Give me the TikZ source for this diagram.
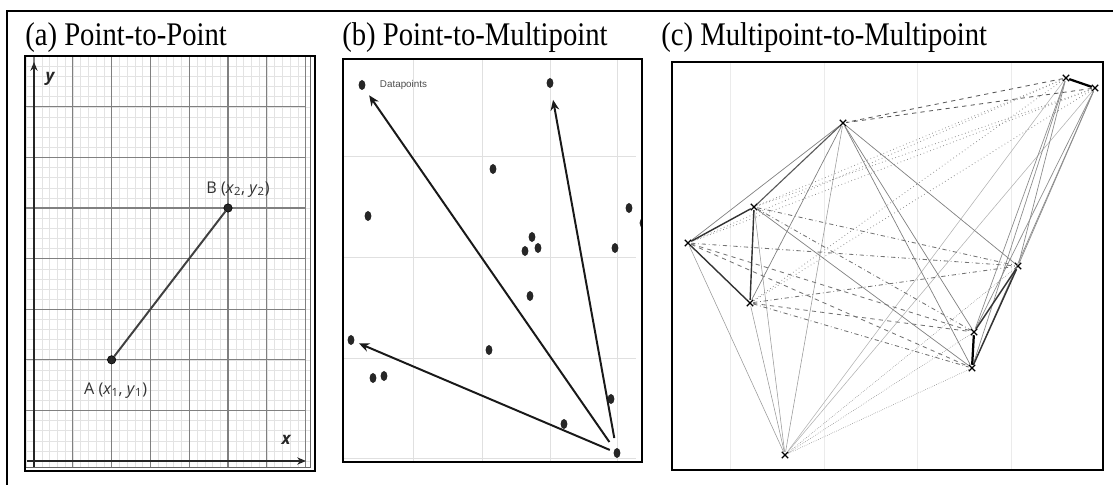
\documentclass[tikz,border=0pt]{standalone}
\usepackage{fontspec}
\setmainfont{Liberation Serif}
\newfontfamily\labelfont{Open Sans}
\newfontfamily\smallfont{Liberation Sans}
\usepackage{tikz}
\usetikzlibrary{arrows.meta, shapes.geometric, shapes.misc, positioning}

\begin{document}
\begin{tikzpicture}[
  x=0.025cm, y=0.025cm, >=Stealth,
  titletext/.style={anchor=base west, inner sep=0pt,
                    font=\fontsize{20.4}{24}\selectfont, yscale=1.15},
  panelframe/.style={draw=black, line width=1.8pt},
  minorline/.style={black!11, line width=0.3pt},
  majorline/.style={black!50, line width=0.9pt},
  axisline/.style={black!85, line width=1.2pt, -{Stealth[length=2.2mm, width=1.8mm]}},
  ptdot/.style={circle, fill=black!85, draw=black, inner sep=0pt, minimum size=0.21cm},
  ptlabel/.style={font=\labelfont\fontsize{11.5}{13}\selectfont, text=black!80, inner sep=1pt},
  axislabel/.style={font=\labelfont\bfseries\itshape\fontsize{12}{14}\selectfont, text=black!85},
  datadot/.style={ellipse, fill=black!85, inner sep=0pt,
                  minimum width=0.17cm, minimum height=0.25cm},
  vecarrow/.style={line width=1.4pt, black!90, -{Stealth[length=2.6mm, width=2.2mm]}},
  bggrid/.style={black!12, line width=0.6pt},
  xmark/.style={cross out, draw=black, line width=0.9pt, inner sep=0pt, minimum size=0.13cm},
  tieedge/.style={black, line width=1.6pt},
  clusteredge/.style={black!80, line width=1.0pt},
  hubedge/.style={black!50, line width=0.5pt},
  faredge/.style={black!40, line width=0.4pt}
]

\useasboundingbox (0,0) rectangle (1113,-485);

\draw[line width=2pt] (7,-485) -- (7,-11) -- (1113,-11);

% (a) point-to-point
\def\ax{34}
\def\ay{461}
\def\gw{38.8}
\def\gh{50.6}

\node[titletext] (ta) at (25,-46) {(a) Point-to-Point};

\begin{scope}
  \clip (26,-57) rectangle (310,-467);
  \foreach \i in {-1,...,36}
    \draw[minorline] ({\ax+\i*\gw/5}, -57) -- ({\ax+\i*\gw/5}, -467);
  \foreach \j in {0,...,41}
    \draw[minorline] (26, {-\ay+\j*\gh/5}) -- (310, {-\ay+\j*\gh/5});
  \foreach \i in {0,...,7}
    \draw[majorline] ({\ax+\i*\gw}, -57) -- ({\ax+\i*\gw}, -467);
  \foreach \j in {1,...,8}
    \draw[majorline] (26, {-\ay+\j*\gh}) -- (305, {-\ay+\j*\gh});
\end{scope}

\draw[axisline] (\ax,-467) -- (\ax,-62);
\draw[axisline] (27,-\ay) -- (306,-\ay);
\node[axislabel] (ylab) at (50,-79) {y};
\node[axislabel] (xlab) at (286,-440) {x};

\draw[black!60, line width=0.6pt] (310,-56) -- (310,-467) -- (25,-467);
\draw[panelframe] (25,-56) rectangle (315,-471);

\node[ptdot] (A) at ({\ax+2*\gw}, {-\ay+2*\gh}) {};
\node[ptdot] (B) at ({\ax+5*\gw}, {-\ay+5*\gh}) {};
\draw[black!75, line width=1.4pt] (A) -- (B);
\node[ptlabel, below=0.42cm of A, xshift=0.1cm]
  {A (\textit{x}\textsubscript{1}, \textit{y}\textsubscript{1})};
\node[ptlabel, above=0.12cm of B, xshift=0.25cm]
  {B (\textit{x}\textsubscript{2}, \textit{y}\textsubscript{2})};

% (b) point-to-multipoint
\node[titletext] (tb) at (342,-46) {(b) Point-to-Multipoint};

\foreach \gx in {413, 482, 550, 617}
  \draw[bggrid] (\gx,-59) -- (\gx,-462);
\foreach \gy in {156, 257, 358, 458}
  \draw[bggrid] (343,-\gy) -- (636,-\gy);

\begin{scope}
  \clip (343,-59) rectangle (642,-462);
  \foreach \n/\px/\py in {1/362/85, 2/550/83, 3/493/169, 4/368/216, 5/629/208,
                          6/643/223, 7/532/237, 8/525/251, 9/538/248, 10/615/248,
                          11/530/296, 12/351/340, 13/489/350, 14/373/378,
                          15/384/376, 16/611/399, 17/564/424, 18/617/453}
    \node[datadot] (d\n) at (\px,-\py) {};
\end{scope}

\node[right=0.35cm of d1, inner sep=0pt, text=black!70,
      font=\smallfont\fontsize{7}{8}\selectfont] (dlab) {Datapoints};

\draw[vecarrow, shorten <=0.22cm, shorten >=0.2cm] (d18) -- (d1);
\draw[vecarrow, shorten <=0.25cm, shorten >=0.3cm] (d18) -- (d2);
\draw[vecarrow, shorten <=0.1cm, shorten >=0.12cm] (d18) -- (d12);

\draw[panelframe] (343,-59) rectangle (642,-462);

% (c) multipoint-to-multipoint
\node[titletext] (tc) at (661,-46) {(c) Multipoint-to-Multipoint};

\foreach \gx in {730, 824, 917, 1011}
  \draw[black!8, line width=0.5pt] (\gx,-62) -- (\gx,-470);

\foreach \n/\px/\py in {1/1066/78, 2/1095/88, 3/843/123, 4/754/207, 5/688/243,
                        6/1018/266, 7/750/303, 8/974/332, 9/972/368, 10/785/455}
  \node[xmark] (m\n) at (\px,-\py) {};

\foreach \s/\t in {1/10, 2/10}
  \draw[faredge, black!30] (m\s) -- (m\t);
\foreach \s/\t in {3/10, 4/10, 5/10, 7/10}
  \draw[faredge] (m\s) -- (m\t);
\foreach \s/\t in {6/10, 8/10, 9/10}
  \draw[faredge, densely dotted, black!50] (m\s) -- (m\t);
\foreach \s/\t in {1/4, 1/5, 1/7, 2/4, 2/5, 2/7}
  \draw[hubedge, dotted, black!45, line width=0.6pt] (m\s) -- (m\t);
\foreach \s/\t in {1/6, 1/8, 1/9, 2/6, 2/8, 2/9}
  \draw[hubedge, black!45] (m\s) -- (m\t);
\foreach \s/\t in {1/3, 2/3}
  \draw[hubedge, dashed, black!65, line width=0.6pt] (m\s) -- (m\t);
\foreach \s/\t in {3/5, 3/7, 3/6, 3/8, 3/9}
  \draw[hubedge] (m\s) -- (m\t);
\draw[hubedge, black!65, line width=0.8pt] (m3) -- (m4);
\foreach \s/\t in {5/6, 4/6, 7/6, 4/8, 7/9}
  \draw[hubedge, dashdotted, black!55, line width=0.6pt] (m\s) -- (m\t);
\foreach \s/\t in {5/8, 5/9, 7/8}
  \draw[hubedge, dashed, black!55, line width=0.6pt] (m\s) -- (m\t);
\draw[hubedge, black!50] (m4) -- (m9);

\foreach \s/\t in {4/5, 5/7, 4/7, 6/8, 6/9}
  \draw[clusteredge] (m\s) -- (m\t);
\foreach \s/\t in {1/2, 8/9}
  \draw[tieedge] (m\s) -- (m\t);

\draw[panelframe] (672,-62) rectangle (1103,-470);

\end{tikzpicture}
\end{document}
